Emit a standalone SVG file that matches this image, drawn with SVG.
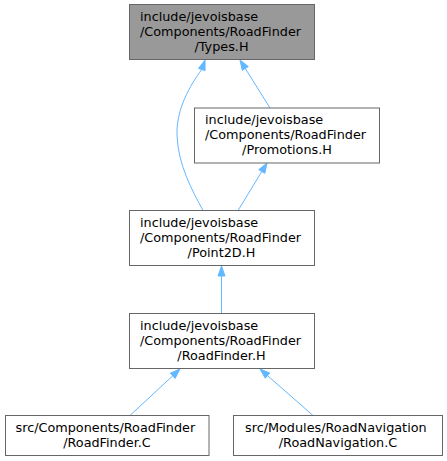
<svg xmlns="http://www.w3.org/2000/svg" width="447" height="461" viewBox="0 0 447 461">
<style>
.box{fill:#ffffff;stroke:#666666;stroke-width:1}
.cur{fill:#999999;stroke:#666666;stroke-width:1}
text{font-family:"DejaVu Sans",sans-serif;font-size:12.8px;fill:#000000}
.e{fill:none;stroke:#63b8ff;stroke-width:1}
.h{fill:#63b8ff;stroke:#63b8ff;stroke-width:1}
</style>
<rect width="447" height="461" fill="#ffffff"/>
<g id="connectors">
<path class="e" d="M270,108 L245.3,68.5"/>
<polygon class="h" points="240,60 248.3,66.6 242.3,70.3"/>
<path class="e" d="M203,210.5 C192,190 178,165 177,135 C176,110 190,85 201.8,69.5"/>
<polygon class="h" points="205,60 205.1,70.6 198.5,68.4"/>
<path class="e" d="M238,210.5 L261.8,171.5"/>
<polygon class="h" points="267,163 264.8,173.3 258.8,169.7"/>
<path class="e" d="M221.5,313 L221.5,276"/>
<polygon class="h" points="221.5,266 218,276 225,276"/>
<path class="e" d="M130,415.5 L172.7,375.8"/>
<polygon class="h" points="180,369 175.1,378.4 170.3,373.2"/>
<path class="e" d="M313,415.5 L267.5,375.6"/>
<polygon class="h" points="260,369 269.8,373 265.2,378.2"/>
</g>
<g id="node_types">
<rect class="cur" x="129.5" y="4.5" width="185" height="55"/>
<text x="140" y="20.5">include/jevoisbase</text>
<text x="140" y="35.5">/Components/RoadFinder</text>
<text x="221.5" y="50.5" text-anchor="middle">/Types.H</text>
</g>
<g id="node_promotions">
<rect class="box" x="194.5" y="108" width="185" height="55"/>
<text x="205" y="124">include/jevoisbase</text>
<text x="205" y="139">/Components/RoadFinder</text>
<text x="287" y="154" text-anchor="middle">/Promotions.H</text>
</g>
<g id="node_point2d">
<rect class="box" x="129.5" y="210.5" width="185" height="55"/>
<text x="140" y="226.5">include/jevoisbase</text>
<text x="140" y="241.5">/Components/RoadFinder</text>
<text x="221.5" y="256.5" text-anchor="middle">/Point2D.H</text>
</g>
<g id="node_roadfinder_h">
<rect class="box" x="129.5" y="313.5" width="185" height="55"/>
<text x="140" y="329.5">include/jevoisbase</text>
<text x="140" y="344.5">/Components/RoadFinder</text>
<text x="221.5" y="359.5" text-anchor="middle">/RoadFinder.H</text>
</g>
<g id="node_roadfinder_c">
<rect class="box" x="5.5" y="415.5" width="203.5" height="40"/>
<text x="15.5" y="432">src/Components/RoadFinder</text>
<text x="107" y="447" text-anchor="middle">/RoadFinder.C</text>
</g>
<g id="node_roadnavigation_c">
<rect class="box" x="233.5" y="415.5" width="209" height="40"/>
<text x="245" y="432">src/Modules/RoadNavigation</text>
<text x="338" y="447" text-anchor="middle">/RoadNavigation.C</text>
</g>
</svg>
